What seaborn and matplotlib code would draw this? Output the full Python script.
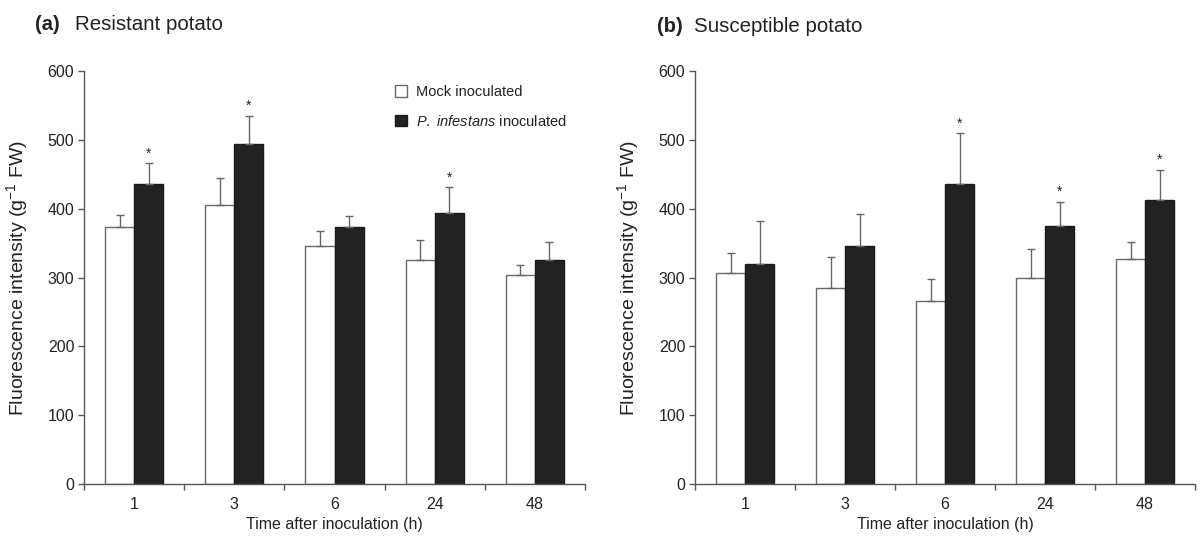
import numpy as np
import pandas as pd
import matplotlib
matplotlib.use("Agg")
import matplotlib.pyplot as plt
from matplotlib.patches import Patch
import seaborn as sns

# ---------------- data ----------------
times = ["1", "3", "6", "24", "48"]
treatments = ["Mock inoculated", "P. infestans inoculated"]

res_mock = [373, 405, 345, 325, 304]
res_mock_se = [18, 39, 22, 29, 14]
res_inf = [435, 493, 373, 394, 325]
res_inf_se = [31, 42, 16, 37, 26]
res_sig = [True, True, False, True, False]

sus_mock = [306, 285, 266, 300, 327]
sus_mock_se = [29, 45, 32, 41, 24]
sus_inf = [320, 346, 436, 375, 413]
sus_inf_se = [62, 46, 73, 35, 43]
sus_sig = [False, False, True, True, True]

yticks = [0, 100, 200, 300, 400, 500, 600]

# ---------------- style ----------------
sns.set_theme(style="ticks")
plt.rcParams["font.family"] = ["Liberation Sans", "DejaVu Sans"]
plt.rcParams["mathtext.fontset"] = "custom"
plt.rcParams["mathtext.rm"] = "Liberation Sans"
plt.rcParams["mathtext.it"] = "Liberation Sans:italic"
TXT = "#222222"
AXC = "#555555"

fig = plt.figure(figsize=(12.04, 5.4), dpi=100)
W, H = 1204, 540
bottom = (H - 484.3) / H
height = 413.6 / H
ax1 = fig.add_axes([84 / W, bottom, 501 / W, height])
ax2 = fig.add_axes([695 / W, bottom, 500 / W, height])


def draw(ax, mock, mock_se, inf, inf_se, sig):
    df = pd.DataFrame({
        "Time": times * 2,
        "Treatment": [treatments[0]] * len(times) + [treatments[1]] * len(times),
        "Value": list(mock) + list(inf),
    })
    sns.barplot(data=df, x="Time", y="Value", hue="Treatment", order=times,
                hue_order=treatments, palette=["white", "#222222"],
                errorbar=None, width=0.58, gap=0, saturation=1,
                linewidth=1.0, ax=ax, legend=False)
    edgecols = ["#6a6a6a", "#1a1a1a"]
    for cont, ec, vals, se in zip(ax.containers, edgecols, [mock, inf], [mock_se, inf_se]):
        xs = []
        for p in cont.patches:
            p.set_edgecolor(ec)
            xs.append(p.get_x() + p.get_width() / 2)
        ax.errorbar(xs, vals, yerr=[np.zeros(len(se)), se], fmt="none",
                    ecolor="#666666", elinewidth=1.0, capsize=3.2, capthick=1.0,
                    zorder=1)
        if cont is ax.containers[1]:
            for x, v, s, g in zip(xs, vals, se, sig):
                if g:
                    ax.text(x, v + s + 4, "*", ha="center", va="bottom",
                            fontsize=10, color=TXT)

    ax.set_xlim(-0.5, len(times) - 0.5)
    ax.set_ylim(0, 600)
    ax.set_yticks(yticks)
    ax.set_yticklabels([str(t) for t in yticks])
    ax.set_xticks(np.arange(-0.5, len(times)), labels=[""] * (len(times) + 1))
    ax.set_xticks(np.arange(len(times)), labels=times, minor=True)
    ax.tick_params(axis="x", which="major", direction="out", length=4,
                   width=1, color=AXC)
    ax.tick_params(axis="x", which="minor", length=0, pad=9,
                   labelsize=11.5, labelcolor=TXT)
    ax.tick_params(axis="y", direction="out", length=4, width=1, color=AXC,
                   labelsize=11.5, labelcolor=TXT, pad=3)
    for s in ["top", "right"]:
        ax.spines[s].set_visible(False)
    for s in ["left", "bottom"]:
        ax.spines[s].set_color(AXC)
        ax.spines[s].set_linewidth(1.0)
    ax.set_xlabel("Time after inoculation (h)", fontsize=11.5, color=TXT,
                  labelpad=4)
    ax.set_ylabel(r"Fluorescence intensity (g$^{-1}$ FW)", fontsize=14,
                  color=TXT)
    ax.yaxis.set_label_coords(-0.108, 0.5)


draw(ax1, res_mock, res_mock_se, res_inf, res_inf_se, res_sig)
draw(ax2, sus_mock, sus_mock_se, sus_inf, sus_inf_se, sus_sig)

handles = [Patch(facecolor="white", edgecolor="#6a6a6a", linewidth=1.0),
           Patch(facecolor="#222222", edgecolor="#1a1a1a", linewidth=1.0)]
labels = ["Mock inoculated", r"$\it{P.\ infestans}$ inoculated"]
fig.legend(handles, labels, loc="upper left",
           bbox_to_anchor=(395 / W, 1 - 85 / H), bbox_transform=fig.transFigure,
           frameon=False, fontsize=10.5, handlelength=0.8, handleheight=0.8,
           handletextpad=0.65, labelspacing=1.0, borderpad=0, borderaxespad=0,
           labelcolor=TXT)

fig.text(35 / W, 1 - 25 / H, "(a)", fontsize=14.5, fontweight="bold",
         va="center", ha="left", color=TXT)
fig.text(75 / W, 1 - 25 / H, "Resistant potato", fontsize=14.8,
         va="center", ha="left", color=TXT)
fig.text(657 / W, 1 - 27 / H, "(b)", fontsize=14.5, fontweight="bold",
         va="center", ha="left", color=TXT)
fig.text(694 / W, 1 - 27 / H, "Susceptible potato", fontsize=14.8,
         va="center", ha="left", color=TXT)

fig.savefig("out.png", dpi=100, facecolor="white")
